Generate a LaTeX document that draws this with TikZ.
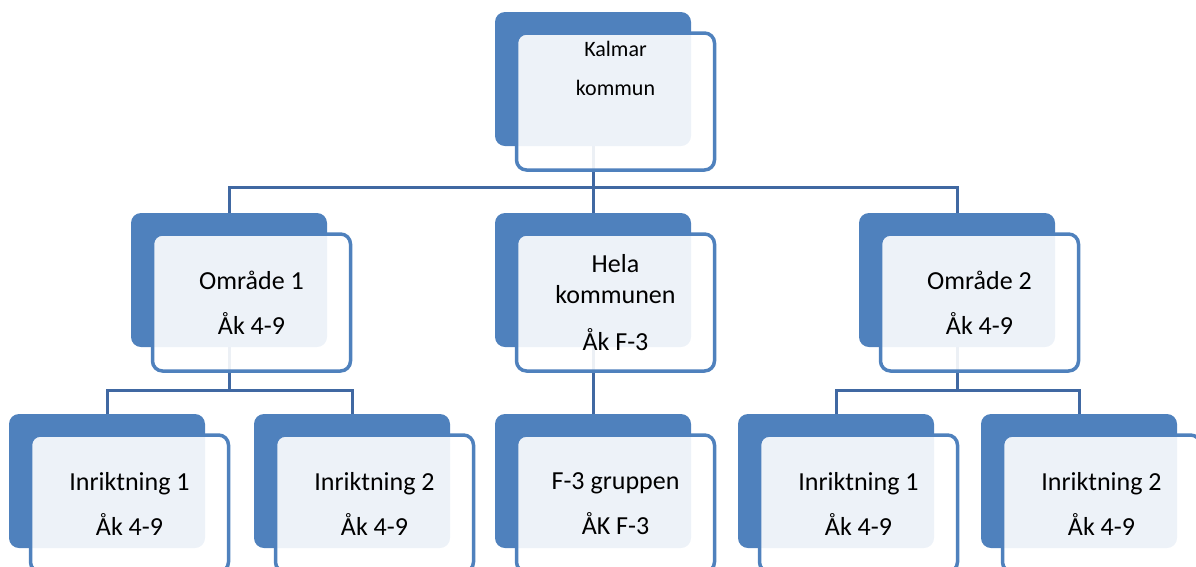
\documentclass[tikz,border=0pt]{standalone}
\usepackage{fontspec}
\setmainfont{Carlito}
\usetikzlibrary{backgrounds}
\definecolor{orgblue}{RGB}{79,129,189}
\definecolor{linkblue}{RGB}{64,104,162}
\tikzset{
  backbox/.style = {rectangle, rounded corners=10pt, fill=orgblue,
    minimum width=196pt, minimum height=134pt, inner sep=0pt},
  frontbox/.style = {rectangle, rounded corners=10pt, draw=orgblue,
    line width=3.5pt, fill=white, fill opacity=0.9, text opacity=1,
    minimum width=198pt, minimum height=137pt, inner sep=0pt,
    align=center, font=\fontsize{26pt}{45pt}\selectfont},% vorderes Feld
  conn/.style = {draw=linkblue, line width=3pt}% Verbindung
}

\begin{document}
\begin{tikzpicture}[x=1pt,y=1pt]
\useasboundingbox (0,0) rectangle (1196,-566);
% hintere Felder
\node [backbox] (kalmarb) at (593,-79) {};
\node [backbox] (omr1b)   at (229,-280) {};
\node [backbox] (helab)   at (593,-280) {};
\node [backbox] (omr2b)   at (957,-280) {};
\node [backbox] (inr11b)  at (107,-481) {};
\node [backbox] (inr12b)  at (352,-481) {};
\node [backbox] (f3b)     at (593,-481) {};
\node [backbox] (inr21b)  at (836,-481) {};
\node [backbox] (inr22b)  at (1079,-481) {};
% vordere Felder
\node [frontbox] (kalmar) at ([shift={(22.5,-22.5)}]kalmarb.center) {};
\node [align=center, font=\fontsize{22pt}{39pt}\selectfont]
  (kalmartxt) at ([yshift=33pt]kalmar.center) {Kalmar\\kommun};
\node [frontbox] (omr1) at ([shift={(22.5,-22.5)}]omr1b.center)
  {Område 1\\Åk 4-9};
\node [frontbox] (hela) at ([shift={(22.5,-22.5)}]helab.center)
  {Hela\\[-14pt]kommunen\\[2pt]Åk F-3};
\node [frontbox] (omr2) at ([shift={(22.5,-22.5)}]omr2b.center)
  {Område 2\\Åk 4-9};
\node [frontbox] (inr11) at ([shift={(22.5,-22.5)}]inr11b.center)
  {Inriktning 1\\Åk 4-9};
\node [frontbox] (inr12) at ([shift={(22.5,-22.5)}]inr12b.center)
  {Inriktning 2\\Åk 4-9};
\node [frontbox] (f3) at ([shift={(22.5,-22.5)}]f3b.center)
  {F-3 gruppen\\ÅK F-3};
\node [frontbox] (inr21) at ([shift={(22.5,-22.5)}]inr21b.center)
  {Inriktning 1\\Åk 4-9};
\node [frontbox] (inr22) at ([shift={(22.5,-22.5)}]inr22b.center)
  {Inriktning 2\\Åk 4-9};
% Verbindungen
\begin{scope}[on background layer]
\coordinate (bus1) at (0,-187);
\coordinate (bus2) at (0,-390);
\draw [conn] (kalmarb.south) -- (helab.north);
\draw [conn] (omr1b.north) -- (omr1b.north |- bus1) -| (omr2b.north);
\draw [conn] (helab.south) -- (f3b.north);
\draw [conn] (omr1b.south) -- (omr1b.south |- bus2);
\draw [conn] (inr11b.north) -- (inr11b.north |- bus2) -| (inr12b.north);
\draw [conn] (omr2b.south) -- (omr2b.south |- bus2);
\draw [conn] (inr21b.north) -- (inr21b.north |- bus2) -| (inr22b.north);
\end{scope}
\end{tikzpicture}
\end{document}
